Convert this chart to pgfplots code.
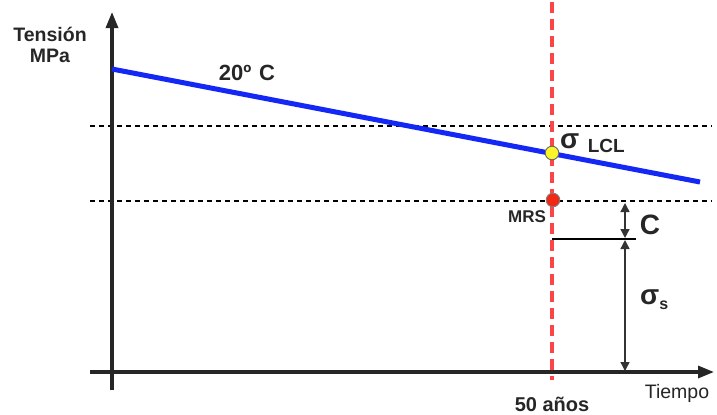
\documentclass[border=0pt]{standalone}
\usepackage{pgfplots}
\pgfplotsset{compat=1.18}
\usepackage{fontspec}
\setmainfont{Liberation Sans}
\usetikzlibrary{arrows.meta}
\definecolor{lineblue}{RGB}{20,40,245}
\definecolor{redd}{RGB}{250,70,70}
\definecolor{ptred}{RGB}{240,40,20}
\definecolor{ptyel}{RGB}{250,245,40}
\begin{document}
\begin{tikzpicture}
\begin{axis}[
  scale only axis, width=717bp, height=412bp,
  xmin=0, xmax=717, ymin=0, ymax=412, y dir=reverse,
  hide axis, clip=false,
]
\path (rel axis cs:0,0) rectangle (rel axis cs:1,1);
% dashed horizontal reference lines
\addplot[black, line width=1.4bp, dash pattern=on 5bp off 4bp] coordinates {(90,126) (712,126)};
\addplot[black, line width=1.4bp, dash pattern=on 5bp off 4bp] coordinates {(90,201) (712,201)};
% axes
\addplot[black!85, line width=3.2bp, -{Triangle[length=16bp,width=12bp]}] coordinates {(112,390) (112,12)};
\addplot[black!85, line width=3.2bp, -{Triangle[length=16bp,width=12bp]}] coordinates {(90,372) (714,372)};
% 50 years red dashed line
\addplot[redd, line width=3.4bp, dash pattern=on 11bp off 6bp] coordinates {(552,2) (552,380)};
% 20 C line
\addplot[lineblue, line width=5bp] coordinates {(112,69) (700,182)};
% C and sigma_s dimension lines
\addplot[black, line width=1.4bp] coordinates {(552,239) (636,239)};
\addplot[black!80, line width=1.4bp, {Triangle[length=9bp,width=9bp]}-{Triangle[length=9bp,width=9bp]}] coordinates {(625,203) (625,238)};
\addplot[black!80, line width=1.4bp, {Triangle[length=9bp,width=9bp]}-{Triangle[length=9bp,width=9bp]}] coordinates {(625,240) (625,371)};
% points
\addplot[only marks, mark=*, mark size=6.8bp, mark options={fill=ptyel, draw=black!60, line width=0.9bp}] coordinates {(552,153)};
\addplot[only marks, mark=*, mark size=6.8bp, mark options={fill=ptred, draw=black!50, line width=0.9bp}] coordinates {(553,200)};
% labels
\node[font=\fontsize{19.5bp}{21bp}\selectfont\bfseries, align=center, text=black!85] at (axis cs:50,45) {Tensión\\MPa};
\node[font=\fontsize{22bp}{24bp}\selectfont\bfseries, text=black!85] at (axis cs:247,73) {20º\hspace{0.35em}C};
\node[anchor=west, inner sep=0pt, text=black!85] at (axis cs:560,143) {\fontsize{28bp}{30bp}\selectfont\bfseries σ\hspace{0.3em}\raisebox{-4bp}{\fontsize{19bp}{21bp}\selectfont LCL}};
\node[font=\fontsize{17bp}{19bp}\selectfont\bfseries, text=black!85] at (axis cs:527,217) {MRS};
\node[font=\fontsize{28bp}{30bp}\selectfont\bfseries, text=black!85] at (axis cs:650,225) {C};
\node[anchor=west, inner sep=0pt, text=black!85] at (axis cs:640,300) {\fontsize{28bp}{30bp}\selectfont\bfseries σ\raisebox{-5bp}{\fontsize{16bp}{18bp}\selectfont s}};
\node[font=\fontsize{19.5bp}{21bp}\selectfont, text=black!85] at (axis cs:677,393) {Tiempo};
\node[font=\fontsize{20bp}{22bp}\selectfont\bfseries, text=black!85] at (axis cs:552,404) {50 años};
\end{axis}
\end{tikzpicture}
\end{document}
